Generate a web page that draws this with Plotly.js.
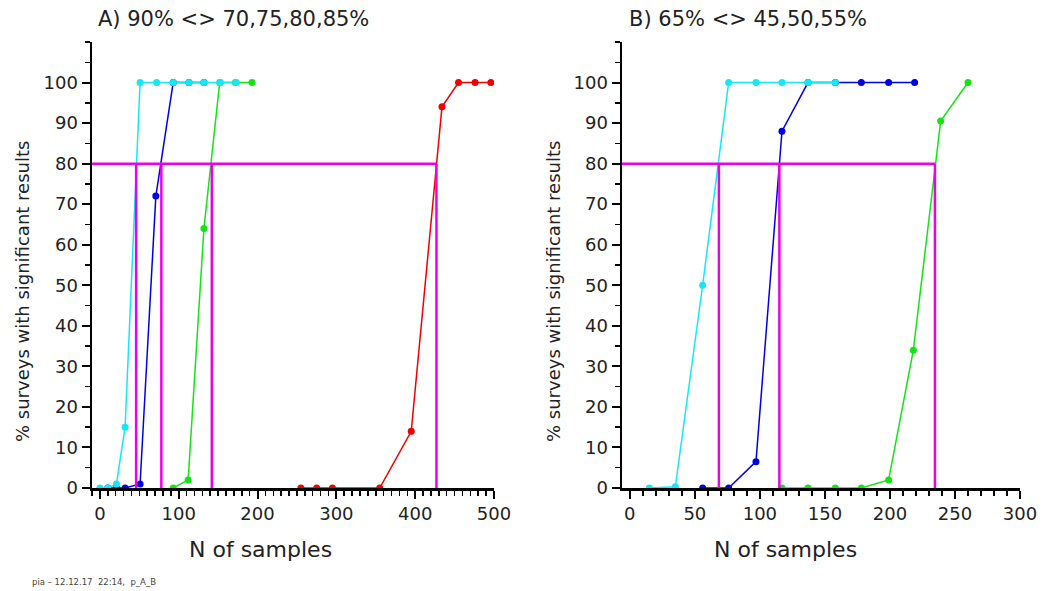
<!DOCTYPE html>
<html>
<head>
<meta charset="utf-8">
<script src="https://cdn.plot.ly/plotly-3.0.1.min.js"></script>
<style>html,body{margin:0;padding:0;background:#fff;}#chart{width:1048px;height:591px;}</style>
</head>
<body>
<div id="chart"></div>
<script>
// Panel A: 90% <> 70,75,80,85%
const aCyanX = [0, 10, 21, 32, 51, 72, 93, 113, 132, 153, 173];
const aCyanY = [0, 0, 1, 15, 100, 100, 100, 100, 100, 100, 100];
const aBlueX = [10, 21, 32, 51, 71, 93, 113, 132];
const aBlueY = [0, 0, 0, 1, 72, 100, 100, 100];
const aGreenX = [93, 112, 132, 152, 172, 193];
const aGreenY = [0, 2, 64, 100, 100, 100];
const aRedX = [255, 275, 295, 355, 395, 434, 455, 476, 496];
const aRedY = [0, 0, 0, 0, 14, 94, 100, 100, 100];
const aCross = [46, 78, 142, 427];

// Panel B: 65% <> 45,50,55%
const bCyanX = [15, 35, 56, 76, 97, 117, 137, 158];
const bCyanY = [0, 0.3, 50, 100, 100, 100, 100, 100];
const bBlueX = [56, 76, 97, 117, 137, 158, 178, 199, 219];
const bBlueY = [0, 0, 6.5, 88, 100, 100, 100, 100, 100];
const bGreenX = [117, 137, 158, 178, 199, 218, 239, 260];
const bGreenY = [0, 0, 0, 0, 2, 34, 90.5, 100];
const bCross = [68.5, 115, 234.6];

const threshold = 80;
const titleA = "A) 90% &lt;&gt; 70,75,80,85%";
const titleB = "B) 65% &lt;&gt; 45,50,55%";
const yTitle = "% surveys with significant results";
const xTitle = "N of samples";
const footer = "pia \u2013 12.12.17  22:14,  p_A_B";

const COL = {cyan: "rgb(20,232,245)", blue: "rgb(0,0,225)", green: "rgb(20,228,20)", red: "rgb(240,0,0)", mag: "rgb(235,0,235)"};

function series(x, y, color, xa, ya) {
  return {x: x, y: y, xaxis: xa, yaxis: ya, type: "scatter", mode: "lines+markers",
    line: {color: color, width: 1.5}, marker: {color: color, size: 7}, showlegend: false, hoverinfo: "skip"};
}
function crossLines(cross, xmin, xa, ya) {
  const xs = [xmin, Math.max(...cross), null];
  const ys = [threshold, threshold, null];
  cross.forEach(c => { xs.push(c, c, null); ys.push(0, threshold, null); });
  return {x: xs, y: ys, xaxis: xa, yaxis: ya, type: "scatter", mode: "lines",
    line: {color: COL.mag, width: 2.5}, showlegend: false, hoverinfo: "skip"};
}

const traces = [
  series(aRedX, aRedY, COL.red, "x", "y"),
  series(aGreenX, aGreenY, COL.green, "x", "y"),
  series(aBlueX, aBlueY, COL.blue, "x", "y"),
  series(aCyanX, aCyanY, COL.cyan, "x", "y"),
  crossLines(aCross, -10, "x", "y"),
  series(bGreenX, bGreenY, COL.green, "x2", "y2"),
  series(bBlueX, bBlueY, COL.blue, "x2", "y2"),
  series(bCyanX, bCyanY, COL.cyan, "x2", "y2"),
  crossLines(bCross, -6, "x2", "y2")
];

const W = 1048, H = 591;
const px = v => v / W, py = v => 1 - v / H;
const FAM = "DejaVu Sans, Liberation Sans, sans-serif";
const font = {family: FAM, size: 18, color: "#222"};

function xAxis(range, dtick, minor, d0, d1, anchor) {
  return {domain: [px(d0), px(d1)], range: range, anchor: anchor, showline: true, linewidth: 2.5, linecolor: "#000",
    ticks: "outside", ticklen: 8, tickwidth: 2, tickcolor: "#000", dtick: dtick, tick0: 0,
    minor: {dtick: minor, ticklen: 5, tickwidth: 1.5, tickcolor: "#000", ticks: "outside"},
    showgrid: false, zeroline: false, tickfont: font};
}
function yAxis(anchor) {
  return {domain: [py(488), py(42)], range: [0, 110], anchor: anchor, showline: true, linewidth: 2.5, linecolor: "#000",
    ticks: "outside", ticklen: 8, tickwidth: 2, tickcolor: "#000", tick0: 0,
    tickvals: [0,10,20,30,40,50,60,70,80,90,100],
    minor: {dtick: 5, ticklen: 5, tickwidth: 1.5, tickcolor: "#000", ticks: "outside"},
    showgrid: false, zeroline: false, tickfont: font};
}
function ann(text, x, y, size, extra) {
  return Object.assign({text: text, xref: "paper", yref: "paper", x: px(x), y: py(y), xanchor: "center", yanchor: "middle",
    showarrow: false, font: {family: FAM, size: size, color: "#222"}}, extra || {});
}

const layout = {
  width: W, height: H, margin: {l: 0, r: 0, t: 0, b: 0},
  paper_bgcolor: "#fff", plot_bgcolor: "rgba(0,0,0,0)",
  xaxis: xAxis([-10, 500], 100, 10, 92, 494, "y"),
  yaxis: yAxis("x"),
  xaxis2: xAxis([-6, 300], 50, 10, 622, 1020, "y2"),
  yaxis2: yAxis("x2"),
  annotations: [
    ann(titleA, 96, 19, 21, {xanchor: "left"}),
    ann(titleB, 627, 19, 21, {xanchor: "left"}),
    ann(xTitle, 260, 549, 22),
    ann(xTitle, 785, 549, 22),
    ann(yTitle, 22, 292, 18, {textangle: -90}),
    ann(yTitle, 553, 292, 18, {textangle: -90}),
    ann(footer, 30, 582, 8.5, {xanchor: "left", font: {family: FAM, size: 8.5, color: "#444"}})
  ]
};

Plotly.newPlot("chart", traces, layout, {displayModeBar: false, staticPlot: true});
</script>
</body>
</html>
